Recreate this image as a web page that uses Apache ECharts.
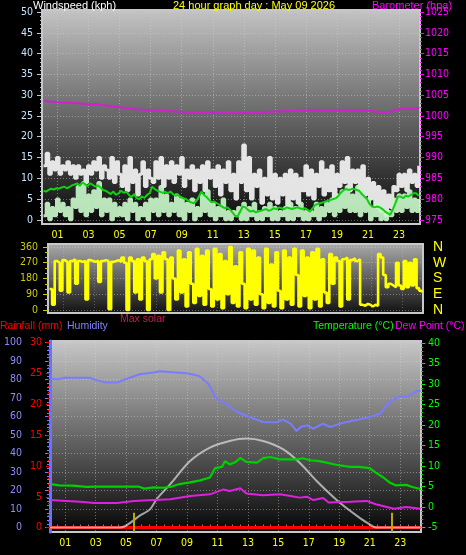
<!DOCTYPE html>
<html><head><meta charset="utf-8">
<script src="https://cdn.jsdelivr.net/npm/echarts@6/dist/echarts.min.js"></script>
<style>html,body{margin:0;padding:0;background:#000}#c{width:466px;height:555px}</style>
</head><body><div id="c"></div><script>
// ---------- DATA ----------
// 10-minute samples starting 00:06 (hours from midnight)
const sampleStart = 0.1;
const sampleStepHours = 1 / 6;

const windGust = [
 13,16,11,14,12,15,
 11,13,12,14,11,13,
 10,13,11,12,9,13,
 11,14,12,15,10,13,
 12,10,15,9,14,11,
 8,13,7,15,9,12,
 6,11,14,8,12,10,
 9,14,10,15,8,13,
 10,14,9,13,11,15,
 8,12,10,13,7,12,
 9,13,7,14,10,12,
 8,13,6,12,9,14,
 7,11,5,14,9,18,
 7,15,5,11,8,12,
 4,10,6,15,5,11,
 4,10,6,11,3,12,
 5,11,4,10,7,13,
 6,12,5,11,8,14,
 6,12,7,13,5,11,
 8,14,9,15,7,12,
 9,12,7,13,6,10,
 5,9,3,8,2,7,
 1,6,3,8,7,11,
 8,11,7,12,9,11,
 8,13];

const windSpeed = [
 1,4,0,3,1,5,
 2,4,1,3,0,5,
 3,8,2,9,1,6,
 2,7,3,9,1,5,
 2,5,0,4,1,3,
 1,4,0,5,2,4,
 0,3,1,4,0,5,
 2,5,1,8,2,6,
 1,4,2,6,1,5,
 0,4,2,5,0,3,
 1,6,2,7,1,4,
 0,3,1,5,0,2,
 0,2,1,3,0,4,
 0,3,1,4,0,2,
 0,3,1,4,0,3,
 0,2,1,3,0,4,
 0,3,1,4,0,2,
 0,2,1,4,0,3,
 1,4,2,5,1,6,
 2,7,3,8,2,6,
 2,8,1,7,2,5,
 0,3,1,4,0,2,
 0,2,1,5,2,6,
 2,6,3,7,2,5,
 2,5];

const windAvg = [
 7.0,6.8,7.2,7.5,7.3,7.6,
 7.5,7.8,8.0,7.6,7.9,8.3,
 8.5,8.8,8.2,9.0,8.6,8.1,
 8.8,8.4,8.0,8.3,7.8,7.2,
 7.0,6.6,6.2,6.8,6.0,6.4,
 7.0,6.5,6.8,6.0,5.5,6.2,
 5.2,5.0,5.6,5.3,6.0,6.4,
 8.0,7.4,7.0,6.8,6.5,6.8,
 6.4,6.8,6.2,5.8,6.0,5.5,
 5.2,5.0,4.6,4.2,4.0,4.5,
 5.5,6.8,6.0,5.5,4.8,4.2,
 4.4,4.0,3.6,3.2,2.8,3.0,
 2.5,1.8,1.0,0.8,2.0,3.2,
 3.0,2.4,2.0,2.2,1.8,2.0,
 2.2,2.4,2.6,2.2,2.4,2.8,
 2.6,3.0,2.8,2.6,3.0,2.8,
 2.6,2.8,3.0,2.8,2.6,2.8,
 2.4,2.0,2.8,3.6,3.8,4.0,
 4.2,4.4,4.6,4.8,5.0,5.2,
 5.8,6.6,7.2,7.4,7.2,7.4,
 7.4,7.2,7.0,6.2,5.6,5.0,
 3.8,3.2,3.0,3.2,3.0,2.6,
 2.0,1.6,1.2,2.5,4.0,5.6,
 5.6,5.2,5.8,5.6,6.0,6.4,
 6.4,5.8];

const windDir = [
 120,30,280,270,110,285,
 275,100,280,290,150,280,
 275,280,60,285,280,275,
 282,160,280,285,280,5,
 275,280,285,275,300,270,
 0,300,280,100,290,60,
 300,280,0,290,320,180,
 310,100,330,290,0,300,
 180,60,340,100,290,20,
 330,150,40,350,80,310,
 30,340,120,20,350,60,
 320,10,280,90,360,40,
 250,20,330,150,10,350,
 60,340,30,300,90,10,
 350,40,260,20,330,110,
 10,340,60,300,30,350,
 200,20,340,80,300,10,
 330,60,350,20,290,100,
 40,320,150,300,280,20,
 290,300,60,285,295,280,
 290,30,25,35,30,20,
 30,25,320,300,200,130,
 150,140,130,270,140,120,
 280,130,270,140,290,125,
 110,100];

const baroHours  = [0.1,1,2,3,3.5,4,5,6,7,8,9,10,11,12,13,14,15,16,17,18,19,20,21,21.5,22,22.4,23,23.5,24,24.3];
const baroValues = [1003.6,1003.3,1003.1,1002.8,1002.9,1002.6,1002.1,1001.6,1001.4,1001.2,1001.0,1000.9,1000.8,1000.7,1000.8,1000.9,1001.1,1001.2,1001.3,1001.4,1001.4,1001.3,1001.3,1001.1,1000.9,1001.0,1001.6,1001.8,1001.7,1001.9];

const humHours  = [0.05,0.5,1,2,2.6,3.1,3.7,4.4,5.05,5.9,6.8,7.2,8,9,9.8,10.4,10.85,11.3,11.6,11.8,12.3,13.1,14,14.9,15.3,15.8,16.2,16.5,16.9,17.3,17.7,17.95,18.4,19.05,19.7,20.3,21,21.7,22.1,22.6,23,23.4,24.1,24.35];
const humValues = [80.5,80.2,81,81,81,79.6,78.4,78.4,80.5,82.9,83.8,84.5,84,83.5,82,77.8,70.6,68,67,65.2,62.5,59.8,57.1,57,58.4,56.2,52.2,54.5,55.3,53.5,55.3,56.2,54.4,56.2,57.5,58.5,59.8,61.6,66.1,69.7,71,70.6,73.8,74];

const tempHours  = [0.05,0.6,1.5,2.4,3,4,5,5.8,6.2,6.8,7.45,8,8.5,9.2,9.86,10.5,10.85,11.3,11.5,11.8,12.2,12.5,12.9,13.6,14.0,14.46,15.1,16.2,16.6,17.1,17.7,18.8,19.7,20.3,21.0,21.4,21.9,22.3,22.7,23.4,23.8,24.35];
const tempValues = [5.6,5.3,5.2,4.9,5.0,5.0,5.0,5.0,4.5,4.8,4.7,5.0,5.6,6.0,6.5,7.2,9.5,9.8,11.2,10.4,11.0,12.0,11.0,10.8,11.9,12.2,11.6,11.6,11.9,11.4,11.2,10.3,9.8,9.8,9.5,8.4,7.2,6.0,5.3,5.4,4.9,4.4];

const dewHours  = [0.05,0.6,1.1,2,2.9,3.6,4.4,5.5,6.8,7.9,9.2,10.5,11.4,11.8,12.5,12.9,14,15.1,15.8,16.4,16.9,17.3,17.95,18.3,19.7,20.8,21.4,22.6,23.4,24.35];
const dewValues = [1.75,1.6,1.5,1.3,1.0,1.0,1.0,1.5,1.75,1.9,2.7,3.1,4.3,3.9,4.6,3.3,2.9,3.1,2.7,2.3,2.5,1.7,2.2,1.1,1.3,1.5,0.7,-0.4,0.0,-0.4];

// max solar curve, plotted on the temperature scale (baseline at -5)
const solarHours  = [0,4.6,5.9,6.58,7.0,7.9,9.2,10.5,11.8,12.9,14.0,15.3,16.4,17.5,18.9,20.3,21.0,21.4,24.37];
const solarValues = [-5,-5,-2.1,-0.5,1.9,5.6,11.2,14.5,16.1,16.7,16.1,14.1,10.8,6.4,1.5,-2.5,-4.2,-5,-5];

const rainHours  = [0, 24.37];
const rainValues = [0, 0];

const sunEventHours = [5.49, 22.45];

// tick labels
const hourLabels   = [1,3,5,7,9,11,13,15,17,19,21,23];
const windTicks    = [0,5,10,15,20,25,30,35,40,45,50];
const baroTicks    = [975,980,985,990,995,1000,1005,1010,1015,1020,1025];
const dirTicks     = [0,90,180,270,360];
const compassNames = {0:'N',90:'E',180:'S',270:'W',360:'N'};
const humTicks     = [0,10,20,30,40,50,60,70,80,90,100];
const rainTicks    = [0,5,10,15,20,25,30];
const tempTicks    = [-5,0,5,10,15,20,25,30,35,40];

// ---------- BUILD ----------
const FONT = 'Liberation Sans, Arial, sans-serif';
const TICKFONT = 'Liberation Sans Narrow, DejaVu Sans Condensed, Liberation Sans, sans-serif';
const sampleTime = i => +(sampleStart + i * sampleStepHours).toFixed(4);
const pairs = (xs, ys) => ys.map((v, i) => [xs[i], v]);
const sampled = arr => arr.map((v, i) => [sampleTime(i), v]);
function range(a, b, s) { const r = []; for (let v = a; v <= b + 1e-9; v += s) r.push(+v.toFixed(3)); return r; }
const fmtHour = v => (v < 10 ? '0' : '') + Math.round(v);
const plain = v => String(v);
const grad = (c0, c1) => ({type:'linear', x:0, y:0, x2:0, y2:1, colorStops:[{offset:0,color:c0},{offset:1,color:c1}]});
const dotted = {show:true, lineStyle:{color:'rgba(215,215,215,0.45)', type:[1,2], width:1}};

function mainY(o) {
  return Object.assign({
    type:'value', axisLine:{show:false},
    axisTick:{show:true, customValues:o.ticks, length:o.tickLen || 4, lineStyle:{color:o.tickColor || o.color}},
    axisLabel:{customValues:o.ticks, color:o.color, fontSize:o.fontSize || 10.5, margin:o.margin, fontFamily:TICKFONT,
               formatter:o.formatter || plain},
    splitLine:o.split ? dotted : {show:false}
  }, o.extra);
}
function minorY(o) {
  return Object.assign({
    type:'value', axisLine:{show:false}, axisLabel:{show:false}, splitLine:{show:false},
    axisTick:{show:true, customValues:o.ticks, length:o.len || 2, lineStyle:{color:o.color}}
  }, o.extra);
}
function label(text, left, top, color, size) {
  return {type:'text', left:left, top:top, style:{text:text, fill:color, font:size + 'px ' + FONT}};
}

const option = {
  backgroundColor:'#000',
  animation:false,
  grid:[
    {left:42, top:10, width:378, height:214, show:true, backgroundColor:grad('#c4c4c4','#080808'), borderColor:'#c8c8c8', borderWidth:2},
    {left:48, top:244, width:375, height:69, show:true, backgroundColor:grad('#ababab','#101010'), borderColor:'#c8c8c8', borderWidth:2},
    {left:50, top:341, width:371, height:191, show:true, backgroundColor:grad('#c8c8c8','#050505'), borderColor:'#c8c8c8', borderWidth:2}
  ],
  xAxis:[
    {gridIndex:0, type:'value', min:0, max:24.35, axisLine:{show:false},
     axisTick:{show:false, customValues:hourLabels},
     axisLabel:{customValues:hourLabels, formatter:fmtHour, color:'#ffff00', fontSize:10.5, margin:6, fontFamily:TICKFONT},
     splitLine:dotted},
    {gridIndex:1, type:'value', min:0, max:24.35, axisLine:{show:false},
     axisTick:{show:false, customValues:hourLabels}, axisLabel:{show:false, customValues:hourLabels},
     splitLine:{show:true, lineStyle:{color:'rgba(215,215,215,0.3)', type:[1,2]}}},
    {gridIndex:2, type:'value', min:0, max:24.37, axisLine:{show:false},
     axisTick:{show:false, customValues:hourLabels},
     axisLabel:{customValues:hourLabels, formatter:fmtHour, color:'#ffff00', fontSize:10.5, margin:6, fontFamily:TICKFONT},
     splitLine:dotted},
    {gridIndex:2, type:'value', min:0, max:24.37, axisLine:{show:false}, axisLabel:{show:false}, splitLine:{show:false},
     axisTick:{show:true, customValues:range(0.5, 24, 0.5), length:3, lineStyle:{color:'#8a8a8a'}}}
  ],
  yAxis:[
    mainY({ticks:windTicks, color:'#c8e4ff', tickColor:'#b8c8d8', margin:9, tickLen:5, split:true,
           extra:{gridIndex:0, min:-1, max:50.5, position:'left'}}),
    minorY({ticks:range(0,50,1), color:'#b8c8d8', len:2, extra:{gridIndex:0, min:-1, max:50.5, position:'left'}}),
    mainY({ticks:baroTicks, color:'#ff00ff', margin:5, tickLen:4,
           extra:{gridIndex:0, min:974, max:1025.5, position:'right'}}),
    minorY({ticks:range(975,1025,1), color:'#ff00ff', len:2, extra:{gridIndex:0, min:974, max:1025.5, position:'right'}}),
    mainY({ticks:dirTicks, color:'#cccc00', margin:10, tickLen:5, split:true,
           extra:{gridIndex:1, min:-17, max:377, position:'left'}}),
    minorY({ticks:range(0,360,30), color:'#cccc00', len:3, extra:{gridIndex:1, min:-17, max:377, position:'left'}}),
    {gridIndex:1, type:'value', min:-17, max:377, position:'right', axisLine:{show:false},
     axisTick:{show:false, customValues:dirTicks}, splitLine:{show:false},
     axisLabel:{customValues:dirTicks, formatter:v => compassNames[v], color:'#ffff00', fontSize:14, margin:10, fontFamily:FONT}},
    mainY({ticks:humTicks, color:'#8c8cff', tickColor:'#7878ff', margin:8, tickLen:5, split:true,
           extra:{gridIndex:2, min:-2.4, max:100.9, position:'left', offset:20,
                  axisLine:{show:true, lineStyle:{color:'#7070ff', width:3}}}}),
    minorY({ticks:range(0,100,2), color:'#7878ff', len:3, extra:{gridIndex:2, min:-2.4, max:100.9, position:'left', offset:20}}),
    mainY({ticks:rainTicks, color:'#ff0000', margin:8, tickLen:4,
           extra:{gridIndex:2, min:-0.71, max:30.26, position:'left'}}),
    minorY({ticks:range(0,30,1), color:'#ff0000', len:2, extra:{gridIndex:2, min:-0.71, max:30.26, position:'left'}}),
    mainY({ticks:tempTicks, color:'#00ff00', margin:7, tickLen:4,
           extra:{gridIndex:2, min:-6.07, max:40.44, position:'right'}}),
    minorY({ticks:range(-5,40,1), color:'#00e000', len:2, extra:{gridIndex:2, min:-6.07, max:40.44, position:'right'}})
  ],
  series:[
    {name:'Gust', type:'line', xAxisIndex:0, yAxisIndex:0, step:'end', symbol:'none',
     lineStyle:{color:'rgba(238,238,238,0.95)', width:3}, data:sampled(windGust)},
    {name:'Wind', type:'line', xAxisIndex:0, yAxisIndex:0, step:'end', symbol:'none',
     lineStyle:{color:'rgba(200,245,200,0.92)', width:3}, data:sampled(windSpeed)},
    {name:'Average', type:'line', xAxisIndex:0, yAxisIndex:0, symbol:'none',
     lineStyle:{color:'#10d010', width:2}, data:sampled(windAvg)},
    {name:'Barometer', type:'line', xAxisIndex:0, yAxisIndex:2, symbol:'none',
     lineStyle:{color:'#d020d0', width:2}, data:pairs(baroHours, baroValues)},
    {name:'Direction', type:'line', xAxisIndex:1, yAxisIndex:4, step:'end', symbol:'none',
     lineStyle:{color:'#ffff00', width:2.6}, data:sampled(windDir)},
    {name:'Rainfall', type:'line', xAxisIndex:2, yAxisIndex:9, symbol:'none',
     lineStyle:{color:'#ff0000', width:3}, data:pairs(rainHours, rainValues)},
    {name:'Max solar', type:'line', xAxisIndex:2, yAxisIndex:11, symbol:'none', smooth:0.3,
     lineStyle:{color:'rgba(225,225,225,0.7)', width:2}, data:pairs(solarHours, solarValues)},
    {name:'Humidity', type:'line', xAxisIndex:2, yAxisIndex:7, symbol:'none',
     lineStyle:{color:'#7b7bff', width:2}, data:pairs(humHours, humValues)},
    {name:'Temperature', type:'line', xAxisIndex:2, yAxisIndex:11, symbol:'none',
     lineStyle:{color:'#00d000', width:2.2}, data:pairs(tempHours, tempValues)},
    {name:'Dew Point', type:'line', xAxisIndex:2, yAxisIndex:11, symbol:'none',
     lineStyle:{color:'#e020e0', width:2}, data:pairs(dewHours, dewValues)},
    {name:'Sun', type:'line', xAxisIndex:2, yAxisIndex:11, symbol:'none', data:[],
     markLine:{silent:true, symbol:['none','none'], label:{show:false},
       lineStyle:{color:'#b8a800', width:2, type:'solid'},
       data:sunEventHours.map(h => [{coord:[h,-6.07]},{coord:[h,-1.4]}])}}
  ],
  graphic:[
    label('Windspeed (kph)', 33, 0, '#ffffff', 11),
    label('24 hour graph day : May 09 2026', 173, 0, '#ffff00', 11),
    label('Barometer (hpa)', 372, 0, '#ff00ff', 11),
    label('Rainfall (mm)', 0, 321, '#ff0000', 10.5),
    label('Humidity', 67, 321, '#8080ff', 10.5),
    label('Max solar', 120, 314, '#c02048', 10.5),
    label('Temperature (°C)', 313, 321, '#00ff00', 10.5),
    label('Dew Point (°C)', 395, 321, '#ff00ff', 10.5)
  ]
};
const chart = echarts.init(document.getElementById('c'), null, {renderer:'canvas'});
chart.setOption(option);
</script></body></html>
